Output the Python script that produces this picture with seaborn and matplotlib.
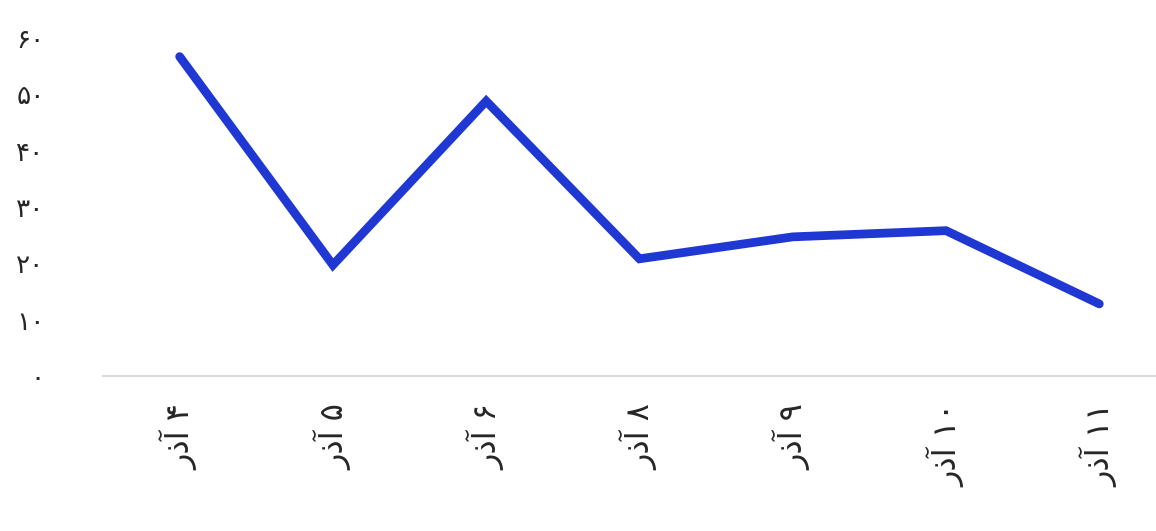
import numpy as np
import pandas as pd
import seaborn as sns
import matplotlib
matplotlib.use("Agg")
import matplotlib.pyplot as plt

# data
days = ["۴ آذر", "۵ آذر", "۶ آذر", "۸ آذر", "۹ آذر", "۱۰ آذر", "۱۱ آذر"]
values = [56.7, 19.7, 48.8, 20.8, 24.7, 25.8, 12.8]
y_ticks = [0, 10, 20, 30, 40, 50, 60]
y_labels = ["۰", "۱۰", "۲۰", "۳۰", "۴۰", "۵۰", "۶۰"]


def visual(s):
    # matplotlib has no bidi: words reversed, digit runs kept left to right
    parts = s.split(" ")
    return " ".join(p if p[0] in "۰۱۲۳۴۵۶۷۸۹" else p[::-1] for p in parts[::-1])


df = pd.DataFrame({"day": days, "value": values, "pos": np.arange(len(days))})

sns.set_theme(style="white")
plt.rcParams["font.family"] = ["DejaVu Sans"]

fig = plt.figure(figsize=(11.56, 5.31), dpi=100)
ax = fig.add_axes([103 / 1156, (531 - 376) / 531, 1 - 103 / 1156, (376 - 38) / 531])

sns.lineplot(data=df, x="pos", y="value", ax=ax, color="#1f38d4",
             linewidth=6.3, solid_capstyle="round", solid_joinstyle="miter")

ax.set_xlim(-0.5, 6.37)
ax.set_ylim(0, 60)
ax.set_xticks(df["pos"])
ax.set_xticklabels([visual(d) for d in days], rotation=90, fontsize=23)
ax.set_yticks(y_ticks)
ax.set_yticklabels(y_labels, fontsize=19)
ax.tick_params(axis="both", length=0)
ax.tick_params(axis="y", pad=42)
ax.tick_params(axis="x", pad=20)

for s in ["top", "right", "left"]:
    ax.spines[s].set_visible(False)
ax.spines["bottom"].set_color("#d9d9d9")
ax.spines["bottom"].set_linewidth(1.5)
ax.set_xlabel("")
ax.set_ylabel("")

fig.savefig("out.png", dpi=100)
